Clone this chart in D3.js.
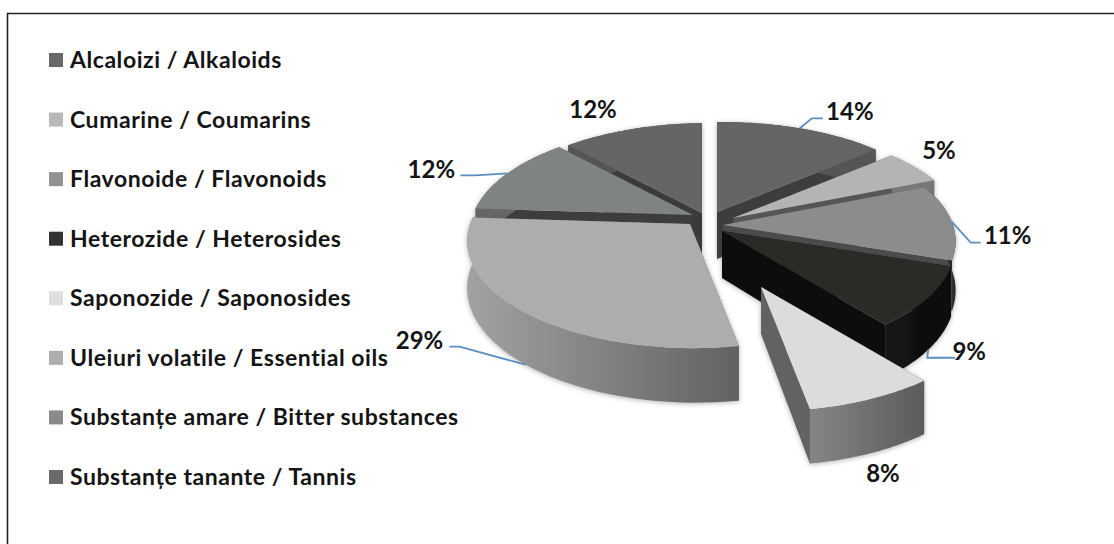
<!DOCTYPE html>
<html>
<head>
<meta charset="utf-8">
<script src="https://cdn.jsdelivr.net/npm/d3@7"></script>
<style>
  html, body { margin: 0; padding: 0; background: #fff; }
  svg { display: block; }
  text { font-family: Lato, "Open Sans", sans-serif; font-weight: 700; fill: #141414; }
</style>
</head>
<body>
<svg id="chart" width="1114" height="544"></svg>
<script>
// data
const categories = [
  'Alcaloizi / Alkaloids',
  'Cumarine / Coumarins',
  'Flavonoide / Flavonoids',
  'Heterozide / Heterosides',
  'Saponozide / Saponosides',
  'Uleiuri volatile / Essential oils',
  'Substanțe amare / Bitter substances',
  'Substanțe tanante / Tannis',
];
const percents = [14, 5, 11, 9, 8, 29, 12, 12];

// styling, one entry per category
const topColors = ['#656565', '#b4b4b4', '#8b8c8c', '#2a2a28', '#dcdcdc', '#adadad', '#7f8383', '#656565'];
const swatchColors = ['#6a6a6a', '#b8b8b8', '#929292', '#333333', '#dedede', '#adadad', '#8a8a8a', '#6a6a6a'];
const edgeColors = ['#3d3d3d', '#575757', '#4b4b4b', '#111111', '#626262', '#6a6a6a', '#3c3c3c', '#3a3a3a'];
const rimColors = [
  ['#555', '#555'], ['#777', '#777'], ['#2a2a2a', '#2a2a2a'], ['#141414', '#0e0e0e'],
  ['#858585', '#5a5c5c'], ['#a2a2a2', '#626262'], ['#666', '#666'], ['#555', '#555'],
];
// where each exploded slice has its apex
const apexes = [[717, 212], [733, 218], [723, 225], [722, 231], [761, 287], [690, 224], [693, 215], [702, 213]];
// back to front
const paintOrder = [7, 6, 0, 1, 2, 3, 5, 4];

// leader from the rim to the label, offsets from the rim point
const leaders = [
  { bottom: false, bend: [[12, -10], [23, -10]], label: [50, -17] },
  { bottom: false, bend: null, label: [0, 0], at: [939, 151] },
  { bottom: false, bend: [[19, 21], [29, 21]], label: [56, 14] },
  { bottom: true, bend: [[-1, 8], [27, 8]], label: [41, 2] },
  { bottom: false, bend: null, label: [0, 0], at: [883, 474] },
  { bottom: true, bend: [[-66, -18], [-76, -18]], label: [-106, -24] },
  { bottom: false, bend: [[-32, 2], [-47, 2]], label: [-76, -4] },
  { bottom: false, bend: null, label: [0, 0], at: [593, 110] },
];

const svg = d3.select('#chart');
const defs = svg.append('defs');

const rx = 225;
const ry = 107;
const perspY = 0.16;
const perspX = 0.022;
const depth = 47;

// flat pie -> screen, nearer the viewer means bigger
function project(i, angle, r, z) {
  const scale = 1 - perspY * r * Math.cos(angle) + perspX * r * Math.sin(angle);
  return [
    apexes[i][0] + rx * r * Math.sin(angle) * scale,
    apexes[i][1] - ry * r * Math.cos(angle) * scale + z * depth * scale,
  ];
}

const arcData = d3.pie().sort(null).value((d) => d)(percents);
const line = d3.line();

function arcPoints(d, i, z) {
  const steps = d3.range(0, 41).map((k) => d.startAngle + (d.endAngle - d.startAngle) * k / 40);
  return steps.map((a) => project(i, a, 1, z));
}

// soft edge of the scanned picture
const soft = defs.append('filter').attr('id', 'soft')
  .attr('x', '-5%').attr('y', '-5%').attr('width', '110%').attr('height', '115%');
soft.append('feDropShadow')
  .attr('dx', 0).attr('dy', 1).attr('stdDeviation', 2.5)
  .attr('flood-color', '#000').attr('flood-opacity', 0.3);
soft.append('feGaussianBlur').attr('stdDeviation', 0.5);

// frame: only the top and left edges are in the picture
svg.append('path')
  .attr('d', line([[7.5, 544], [7.5, 13.5], [1114, 13.5]]))
  .attr('fill', 'none').attr('stroke', '#222').attr('stroke-width', 1.6);

// legend
const legendY = d3.scalePoint().domain(categories).range([60, 477]);
const legend = svg.selectAll('.legend-item').data(categories).join('g')
  .attr('class', 'legend-item')
  .attr('transform', (d) => `translate(49,${legendY(d)})`);
legend.append('rect')
  .attr('y', -7).attr('width', 14).attr('height', 14)
  .attr('fill', (d, i) => swatchColors[i]);
legend.append('text')
  .attr('x', 21).attr('dy', '0.35em')
  .attr('font-size', 23).attr('letter-spacing', 0.55)
  .text((d) => d);

// slices
const pieGroup = svg.append('g').attr('filter', 'url(#soft)');
paintOrder.forEach((i) => {
  const d = arcData[i];
  const g = pieGroup.append('g').attr('class', 'slice');

  const grad = defs.append('linearGradient')
    .attr('id', `rim${i}`);
  grad.append('stop').attr('offset', 0).attr('stop-color', rimColors[i][0]);
  grad.append('stop').attr('offset', 1).attr('stop-color', rimColors[i][1]);

  const apexTop = project(i, 0, 0, 0);
  const apexBottom = project(i, 0, 0, 1);
  [d.startAngle, d.endAngle].forEach((a) => {
    g.append('path')
      .attr('d', line([apexTop, project(i, a, 1, 0), project(i, a, 1, 1), apexBottom]) + 'Z')
      .attr('fill', edgeColors[i]);
  });

  const topArc = arcPoints(d, i, 0);
  const bottomArc = arcPoints(d, i, 1);
  g.append('path')
    .attr('d', line(topArc.concat(bottomArc.slice().reverse())) + 'Z')
    .attr('fill', `url(#rim${i})`);

  g.append('path')
    .attr('d', line([apexTop].concat(topArc)) + 'Z')
    .attr('fill', topColors[i]);
});

// labels and leader lines
leaders.forEach((l, i) => {
  const d = arcData[i];
  const mid = (d.startAngle + d.endAngle) / 2;
  const rim = project(i, mid, 1, l.bottom ? 1 : 0);
  if (l.bend) {
    svg.append('path')
      .attr('d', line([rim].concat(l.bend.map((b) => [rim[0] + b[0], rim[1] + b[1]]))))
      .attr('fill', 'none').attr('stroke', '#5a8fc0').attr('stroke-width', 1.8);
  }
  const pos = l.at || [rim[0] + l.label[0], rim[1] + l.label[1]];
  svg.append('text')
    .attr('x', pos[0]).attr('y', pos[1])
    .attr('dy', '0.35em').attr('text-anchor', 'middle')
    .attr('font-size', 24)
    .text(`${percents[i]}%`);
});
</script>
</body>
</html>
